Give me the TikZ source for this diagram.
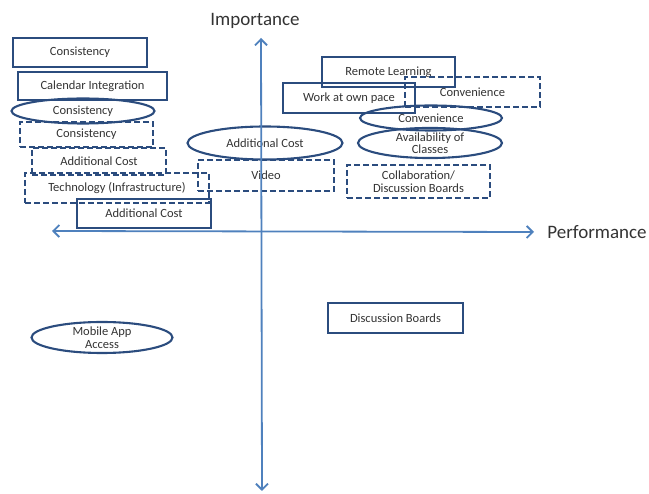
\documentclass[tikz,border=0pt]{standalone}
\usepackage{fontspec}
\setmainfont{Carlito}
\usetikzlibrary{arrows.meta,shapes.geometric}
\definecolor{boxc}{HTML}{2B4C7E}
\definecolor{axisc}{HTML}{4F81BD}
\definecolor{txtc}{HTML}{333333}
\begin{document}
\begin{tikzpicture}[x=1pt,y=-1pt,
  lbl/.style={text=txtc,font=\fontsize{12.5}{12.5}\selectfont,inner sep=0pt,align=center},
  sbox/.style={lbl,draw=boxc,line width=2.1pt,rectangle},
  dbox/.style={lbl,draw=boxc,line width=2.1pt,rectangle,dash pattern=on 6pt off 3pt},
  ebox/.style={lbl,draw=boxc,line width=2.1pt,ellipse},
  axis/.style={draw=axisc,line width=1.8pt,{Straight Barb[length=6pt,width=12pt]}-{Straight Barb[length=6pt,width=12pt]}},
  big/.style={text=txtc,font=\fontsize{19}{20}\selectfont,inner sep=0pt}]
\useasboundingbox (0,0) rectangle (649,494);
% left cluster
\node[sbox,minimum width=134pt,minimum height=29pt] (c1) at (80,52.5) {Consistency};
\node[sbox,minimum width=149pt,minimum height=28pt] (cal) at (92.5,86) {Calendar Integration};
\node[ebox,minimum width=143pt,minimum height=25pt] (c2) at (83,111) {Consistency};
\node[dbox,minimum width=133pt,minimum height=25pt] (c3) at (86.5,134.5) {Consistency};
\node[dbox,minimum width=134pt,minimum height=27pt] (ac1) at (99,161.5) {Additional Cost};
\node[dbox,minimum width=184pt,minimum height=30pt] (tech) at (117,188) {Technology (Infrastructure)};
\node[sbox,minimum width=134pt,minimum height=29pt] (ac2) at (144,213.5) {Additional Cost};
% center
\node[ebox,minimum width=155pt,minimum height=33pt] (ac3) at (265,143) {Additional Cost};
\node[dbox,minimum width=136pt,minimum height=31pt] (vid) at (266,175.5) {Video};
% right cluster
\node[sbox,minimum width=133pt,minimum height=30pt] (rl) at (388.5,72) {Remote Learning};
\node[sbox,minimum width=132pt,minimum height=30pt] (wop) at (349,98) {Work at own pace};
\node[dbox,minimum width=135pt,minimum height=30pt] (conv1) at (472.5,92) {Convenience};
\node[ebox,minimum width=142pt,minimum height=25pt] (conv2) at (431,118) {Convenience};
\node[ebox,minimum width=144pt,minimum height=30pt] (avail) at (430,143) {Availability of\\Classes};
\node[dbox,minimum width=143pt,minimum height=33pt] (collab) at (418.5,181.5) {Collaboration/\\Discussion Boards};
% lower
\node[ebox,minimum width=141pt,minimum height=31pt] (mob) at (102,337.5) {Mobile App\\Access};
\node[sbox,minimum width=135pt,minimum height=30pt] (db) at (395.5,318) {Discussion Boards};
% axes
\coordinate (vt) at (261,38);
\coordinate (vb) at (262,491);
\coordinate (hl) at (52,231);
\coordinate (hr) at (534,232);
\draw[axis] (vb) -- (vt);
\draw[axis] (hl) -- (hr);
\node[big] (imp) at (255,21) {Importance};
\node[big] (perf) at (597,232) {Performance};
\end{tikzpicture}
\end{document}
